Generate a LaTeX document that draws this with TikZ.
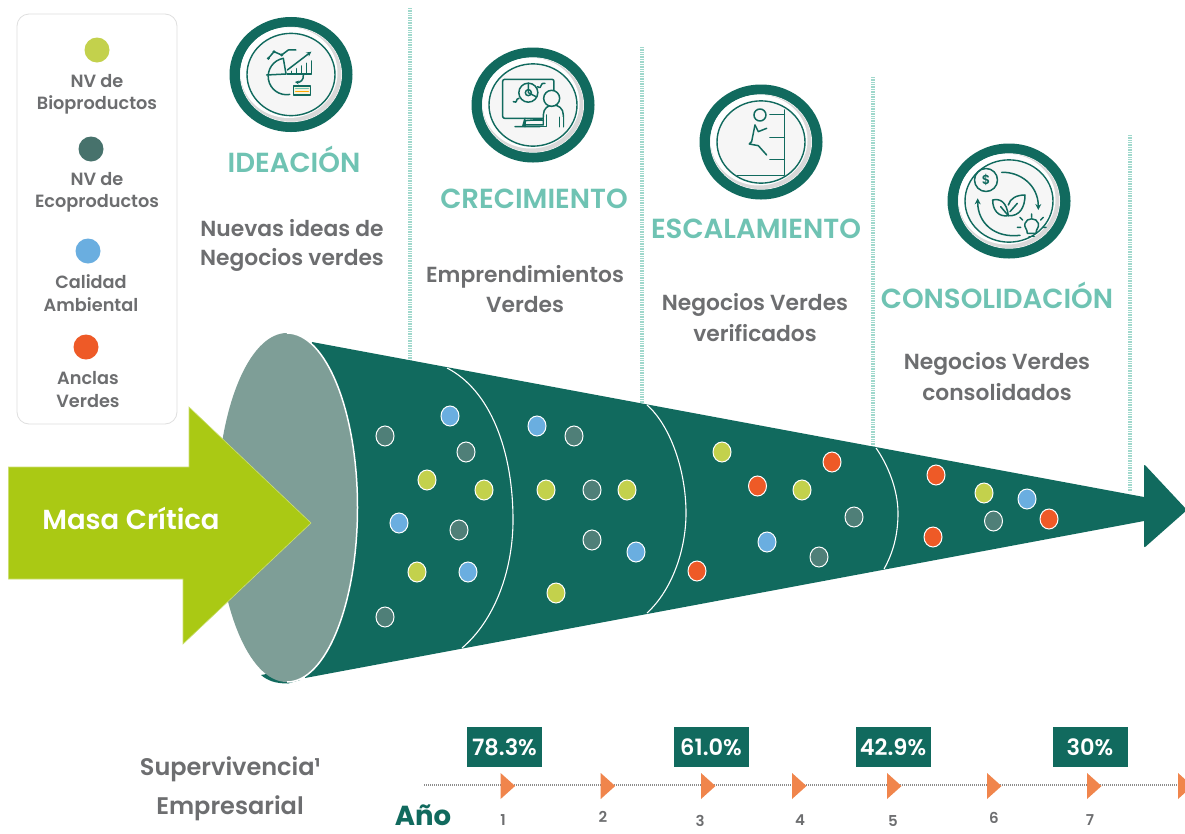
\documentclass[tikz,border=0pt]{standalone}
\usepackage{fontspec}
\setmainfont{Poppins}[UprightFont={* SemiBold},BoldFont={* Bold}]
\usetikzlibrary{arrows.meta,shapes.geometric}
\definecolor{dkgreen}{HTML}{116A5E}
\definecolor{ellgrey}{HTML}{7E9E97}
\definecolor{lime}{HTML}{AAC914}
\definecolor{dotY}{HTML}{C3D14C}
\definecolor{dotG}{HTML}{4F7F78}
\definecolor{dotB}{HTML}{6AAEE0}
\definecolor{dotO}{HTML}{EE5A27}
\definecolor{headteal}{HTML}{6FC3B3}
\definecolor{txtgrey}{HTML}{6D6E70}
\definecolor{triorange}{HTML}{F0854C}
\definecolor{paleline}{HTML}{A0D8CC}
\tikzset{
 dotw/.style={ellipse,draw=white,line width=1pt,minimum width=18pt,minimum height=20pt,inner sep=0pt},
 legdot/.style={circle,minimum size=25pt,inner sep=0pt},
 legtxt/.style={text=txtgrey,inner sep=0pt,font=\fontsize{17.7}{18}\selectfont},
 headtxt/.style={text=headteal,inner sep=0pt,font=\fontsize{27.6}{28}\selectfont},
 subtxt/.style={text=txtgrey,inner sep=0pt,font=\fontsize{21.8}{24}\selectfont},
 survtxt/.style={text=txtgrey,inner sep=0pt,font=\fontsize{24}{26}\selectfont},
 pct/.style={fill=dkgreen,text=white,minimum width=75pt,minimum height=40pt,inner sep=0pt,font=\fontsize{22.5}{24}\selectfont},
 yrtxt/.style={text=txtgrey,inner sep=0pt,font=\fontsize{15}{16}\selectfont},
 vline/.style={paleline,line width=3.5pt,dash pattern=on 1pt off 0.7pt},
 tri/.style={fill=triorange},
 ico/.style={dkgreen,line width=1.5pt,line cap=round,line join=round},
 segline/.style={white,line width=1.1pt},
}
\newcommand{\ringicon}[2]{%
 \begin{scope}[shift={(#1,#2)},yscale=.935]
 \fill[dkgreen] (0,0) circle[radius=61.5pt];
 \fill[white] (0,0) circle[radius=51pt];
 \fill[gray!30] (0,0) circle[radius=50.5pt];
 \fill[white] (-2,-2) circle[radius=48.5pt];
 \fill[gray!7] (0,0) circle[radius=43.5pt];
 \draw[dkgreen,line width=1.4pt] (0,0) circle[radius=44pt];
 \end{scope}
}
\begin{document}
\begin{tikzpicture}[x=1pt,y=-1pt]
\useasboundingbox (0,0) rectangle (1185,833);
\fill[white] (0,0) rectangle (1185,833);

% vertical separators
\draw[vline] (410,8) -- (410,362);
\draw[vline] (642,47) -- (642,404);
\draw[vline] (873,77) -- (873,452);
\draw[vline] (1130,135) -- (1130,492);

% legend
\draw[gray!25,line width=.8pt,rounded corners=12pt] (17,14) rectangle (177,424);
\node[legdot,fill=dotY] (ly) at (97,50) {};
\node[legdot,fill=dotG!90!black] (lg) at (91,149) {};
\node[legdot,fill=dotB] (lb) at (88,251) {};
\node[legdot,fill=dotO] (lo) at (86,347) {};
\node[legtxt] (l1a) at (97,81) {NV de};
\node[legtxt] (l1b) at (97,105) {Bioproductos};
\node[legtxt] (l2a) at (97,179) {NV de};
\node[legtxt] (l2b) at (97,203) {Ecoproductos};
\node[legtxt] (l3a) at (91,282) {Calidad};
\node[legtxt] (l3b) at (91,305) {Ambiental};
\node[legtxt] (l4a) at (88,378) {Anclas};
\node[legtxt] (l4b) at (88,401) {Verdes};

% funnel
\fill[dkgreen] (261,675) .. controls (268,681) and (276,683.5) .. (288,683.5) -- (300,680) -- (288,670) -- cycle;
\fill[dkgreen] (312,342) -- (1144,497) -- (1144,468) [rounded corners=2pt] -- (1144,464) -- (1187,510) -- (1144,548) [sharp corners] -- (1144,521) -- (305,678) -- cycle;
\fill[ellgrey] (287,507.5) ellipse[x radius=70pt,y radius=174.5pt];
\draw[white,line width=1.5pt] (287,333) arc[start angle=90,end angle=-90,x radius=70.5pt,y radius=174.5pt];
\draw[segline] (447,368) .. controls (490,390) and (513,450) .. (513,520) .. controls (513,570) and (495,620) .. (462,648);
\draw[segline] (647,405) .. controls (670,425) and (686,470) .. (686,513) .. controls (686,550) and (672,590) .. (647,613);
\draw[segline] (876,448) .. controls (888,465) and (898,490) .. (898,513) .. controls (898,535) and (893,553) .. (884,569);

% green arrow
\draw[fill=lime,draw=lime!60!white,line width=.6pt] (8.5,467) -- (189,467) -- (189,407) -- (311,523) -- (183,644) -- (183,579) -- (8.5,579) -- cycle;
\node[text=white,inner sep=0pt,font=\fontsize{27.5}{30}\selectfont] (masa) at (131,518) {Masa Crítica};

% dots
\foreach \n/\x/\y/\c in {a1/450/416/dotB,a2/385/436/dotG,a3/466/452/dotG,a4/427/480/dotY,a5/484/490/dotY,a6/399/523/dotB,a7/459/530/dotG,a8/417/572/dotY,a9/468/572/dotB,a10/385/617/dotG,
 b1/537/426/dotB,b2/574/436/dotG,b3/546/490/dotY,b4/592/490/dotG,b5/627/490/dotY,b6/592/540/dotG,b7/636/552/dotB,b8/556/593/dotY,
 c1/722/452/dotY,c2/757.5/486/dotO,c3/802/490/dotY,c4/832/462/dotO,c5/854/517/dotG,c6/767/542/dotB,c7/819/557/dotG,c8/697/571/dotO,
 d1/936/475/dotO,d2/984/493/dotY,d3/1027/499/dotB,d4/993.5/521/dotG,d5/1049/519/dotO,d6/933/537/dotO}
 {\node[dotw,fill=\c] (\n) at (\x,\y) {};}

% headings
\node[headtxt] (h1) at (294,159) {IDEACIÓN};
\node[headtxt] (h2) at (534,199) {CRECIMIENTO};
\node[headtxt] (h3) at (756,229) {ESCALAMIENTO};
\node[headtxt] (h4) at (997,295) {CONSOLIDACIÓN};
\node[subtxt] (s1a) at (292,228) {Nuevas ideas de};
\node[subtxt] (s1b) at (292,260) {Negocios verdes};
\node[subtxt] (s2a) at (525,277) {Emprendimientos};
\node[subtxt] (s2b) at (525,305) {Verdes};
\node[subtxt] (s3a) at (755,305) {Negocios Verdes};
\node[subtxt] (s3b) at (755,333) {verificados};
\node[subtxt] (s4a) at (997,364) {Negocios Verdes};
\node[subtxt] (s4b) at (997,392) {consolidados};

% icons
\ringicon{291}{74.5}
\begin{scope}[shift={(200,0)},x=.3333pt,y=-.3333pt,ico]
 \draw (258,222) -- (250,175) arc[start angle=100,end angle=280,radius=55*.3333pt];
 \draw (258,222) -- (200,225);
 \draw (262,222) -- (335,222) -- (335,183);
 \draw (275,222) -- (275,214) (290,222) -- (290,206) (305,222) -- (305,198) (320,222) -- (320,190);
 \draw[-{Stealth[length=5pt,width=5pt]}] (262,210) -- (334,155);
 \draw (205,175) -- (222,155) -- (245,165) -- (265,150) -- (288,150);
 \fill (205,175) circle[radius=1.6pt] (222,155) circle[radius=1.6pt] (245,165) circle[radius=1.6pt];
 \draw[-{Stealth[length=4pt,width=4pt]}] (310,225) .. controls (312,240) and (300,248) .. (285,246);
 \draw[fill=yellow!50!gray!20] (280,258) rectangle (332,285);
 \draw[headteal] (287,266) -- (325,266);
 \draw[orange!70!yellow] (287,275) -- (325,275);
\end{scope}

\ringicon{533}{105}
\begin{scope}[shift={(450,30)},x=.3333pt,y=-.3333pt,ico]
 \draw[rounded corners=2pt] (158,148) rectangle (312,265);
 \draw (225,265) -- (218,290) (195,290) -- (270,290);
 \draw (235,188) circle[radius=9.5pt];
 \draw (235,188) circle[radius=3pt];
 \draw (235,188) -- (235,160) (235,188) -- (258,200);
 \draw (190,215) .. controls (205,222) and (195,205) .. (207,205);
 \draw (262,170) .. controls (280,180) and (265,158) .. (285,160);
 \draw[fill=gray!7] (340,290) -- (340,255) .. controls (340,235) and (325,225) .. (310,225) .. controls (295,225) and (280,235) .. (280,255) -- (280,285) -- (225,285) -- (225,272) -- (275,268);
 \fill[gray!7] (282,260) rectangle (338,292);
 \draw (340,290) -- (340,255) (328,262) -- (328,290) (290,255) -- (290,290) -- (225,290) (225,290) -- (225,272) -- (280,272);
 \draw[fill=gray!7] (305,205) circle[radius=8pt];
\end{scope}

\ringicon{761}{142}
\begin{scope}[shift={(450,30)},x=.3333pt,y=-.3333pt,ico]
 \draw (1003,240) -- (1003,437) -- (862,437);
 \draw (960,253) -- (1003,253) (960,322) -- (1003,322) (960,388) -- (1003,388);
 \draw (930,255) circle[radius=6pt];
 \draw (915,285) -- (905,335) -- (898,342) -- (925,347) -- (950,375);
 \draw (915,285) -- (925,305) -- (950,295);
\end{scope}

\ringicon{1009}{201}
\begin{scope}[shift={(930,130)},x=.3333pt,y=-.3333pt,ico]
 \draw (168,150) circle[radius=11.5pt];
 \node[text=dkgreen,inner sep=0pt,font=\fontsize{13}{14}\selectfont] (dollar) at (168,150) {\$};
 \draw[-{Stealth[length=6pt,width=6pt]}] (215,127) .. controls (270,125) and (325,165) .. (325,240);
 \draw[-{Stealth[length=6pt,width=6pt]}] (270,316) .. controls (195,325) and (143,280) .. (143,205);
 \draw (235,257) .. controls (205,262) and (188,240) .. (188,210) .. controls (210,205) and (230,215) .. (235,257);
 \draw (235,257) .. controls (270,260) and (285,230) .. (285,195) .. controls (260,195) and (240,205) .. (235,225);
 \draw (235,257) -- (212,230) (240,245) -- (262,220);
 \draw[fill=gray!7] (292,310) .. controls (292,295) and (282,295) .. (285,280) .. controls (290,262) and (320,262) .. (325,280) .. controls (328,295) and (318,295) .. (318,310) -- cycle;
 \draw (297,320) -- (313,320);
 \draw (272,292) -- (262,292) (278,270) -- (270,262) (305,262) -- (305,252) (332,270) -- (340,262) (338,292) -- (348,292);
\end{scope}

% bottom survival
\node[survtxt] (sv1) at (230,769) {Supervivencia¹};
\node[survtxt] (sv2) at (230,808) {Empresarial};
\node[text=dkgreen,inner sep=0pt,font=\fontsize{27.5}{30}\bfseries\selectfont] (anio) at (423,815) {Año};

\coordinate (tl0) at (424,785);
\coordinate (tl1) at (1185,785);
\draw[gray!90,line width=1.8pt,dash pattern=on 1pt off 1pt] (tl0) -- (tl1);
\foreach \n/\x in {t1/500.6,t2/600.7,t3/701,t4/792,t5/887,t6/987,t7/1087,t8/1178}
 {\fill[tri] (\x,773) -- (\x+14.5,786) -- (\x,799) -- cycle;}

\node[pct] (p1) at (504.5,747) {78.3\%};
\node[pct] (p2) at (711,747) {61.0\%};
\node[pct] (p3) at (893,747) {42.9\%};
\node[pct] (p4) at (1090,747) {30\%};

\node[yrtxt] (y1) at (503,820) {1};
\node[yrtxt] (y2) at (603,817) {2};
\node[yrtxt] (y3) at (700,821) {3};
\node[yrtxt] (y4) at (800,820) {4};
\node[yrtxt] (y5) at (893,821) {5};
\node[yrtxt] (y6) at (994,818) {6};
\node[yrtxt] (y7) at (1090,820) {7};
\end{tikzpicture}
\end{document}
